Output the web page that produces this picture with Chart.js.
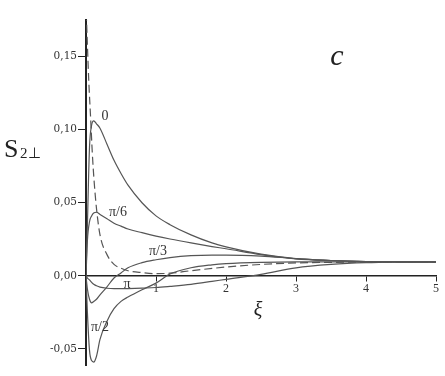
<!DOCTYPE html>
<html>
<head>
<meta charset="utf-8">
<script src="https://cdn.jsdelivr.net/npm/chart.js@4/dist/chart.umd.min.js"></script>
<style>
  html, body { margin: 0; padding: 0; background: #fff; }
  canvas { display: block; }
</style>
</head>
<body>
<canvas id="chart" width="445" height="376"></canvas>
<script>
// valores
const xi = [0, 0.02, 0.05, 0.08, 0.11, 0.15, 0.2, 0.3, 0.4, 0.5, 0.6, 0.8, 1.0, 1.2, 1.5, 1.8, 2.0, 2.5, 3.0, 3.5, 4.0, 4.5, 5.0];

const sAng0   = [0, 0.035, 0.088, 0.103, 0.106, 0.104, 0.101, 0.090, 0.079, 0.070, 0.062, 0.050, 0.041, 0.035, 0.028, 0.0225, 0.0198, 0.0148, 0.0118, 0.0105, 0.0098, 0.0096, 0.0095];
const sAngPi6 = [0, 0.024, 0.037, 0.041, 0.043, 0.0435, 0.042, 0.039, 0.036, 0.034, 0.032, 0.0295, 0.0272, 0.0252, 0.0225, 0.020, 0.0185, 0.0145, 0.0116, 0.0104, 0.0098, 0.0096, 0.0095];
const sAngPi3 = [0, -0.009, -0.016, -0.0185, -0.0175, -0.016, -0.013, -0.0075, -0.0015, 0.002, 0.0055, 0.009, 0.011, 0.0125, 0.0138, 0.0142, 0.0142, 0.0135, 0.0118, 0.0105, 0.0098, 0.0096, 0.0095];
const sAngPi  = [0, -0.0015, -0.0028, -0.0045, -0.0058, -0.0068, -0.0077, -0.0085, -0.0088, -0.0088, -0.0087, -0.0084, -0.008, -0.0072, -0.0058, -0.0038, -0.0024, 0.001, 0.0055, 0.0078, 0.009, 0.0094, 0.0095];
const sAngPi2 = [0, -0.025, -0.051, -0.058, -0.059, -0.055, -0.0435, -0.031, -0.0225, -0.0175, -0.0145, -0.0095, -0.005, 0.0012, 0.0055, 0.0075, 0.0083, 0.0092, 0.0095, 0.0095, 0.0095, 0.0095, 0.0095];

const xiDash = [0.004, 0.02, 0.04, 0.067, 0.09, 0.114, 0.15, 0.2, 0.3, 0.4, 0.5, 0.6, 0.8, 1.0, 1.2, 1.5, 2.0, 2.5, 3.0, 4.0, 5.0];
const sDash  = [0.18, 0.158, 0.133, 0.107, 0.084, 0.066, 0.046, 0.028, 0.0145, 0.0078, 0.0052, 0.0035, 0.0022, 0.0015, 0.0018, 0.0035, 0.006, 0.0078, 0.0088, 0.0094, 0.0095];

const yTicks = [-0.05, 0, 0.05, 0.10, 0.15];
const xTicks = [1, 2, 3, 4, 5];

const curveLabels = [
  { text: '0',   x: 105, y: 116 },
  { text: 'π/6', x: 118, y: 212 },
  { text: 'π/3', x: 158, y: 251 },
  { text: 'π',   x: 127, y: 284 },
  { text: 'π/2', x: 100, y: 327 }
];

function pts(xs, ys) {
  return xs.map((x, i) => ({ x, y: ys[i] }));
}

function curve(xs, ys, dash) {
  return {
    data: pts(xs, ys),
    borderColor: '#555',
    borderWidth: 1.2,
    borderDash: dash || [],
    pointRadius: 0,
    fill: false,
    cubicInterpolationMode: 'monotone'
  };
}

const labelsPlugin = {
  id: 'textos',
  afterDraw(chart) {
    const ctx = chart.ctx;
    ctx.save();
    ctx.fillStyle = '#333';
    ctx.textAlign = 'center';
    ctx.textBaseline = 'middle';
    ctx.font = '14px "Liberation Serif"';
    curveLabels.forEach(l => ctx.fillText(l.text, l.x, l.y));

    // titulo eje y
    ctx.fillStyle = '#222';
    ctx.textAlign = 'left';
    ctx.textBaseline = 'alphabetic';
    ctx.font = '26px "Liberation Serif"';
    ctx.fillText('S', 4, 157);
    ctx.font = '15px "Liberation Serif"';
    ctx.fillText('2⊥', 20, 158);

    // etiqueta eje x y letra del panel
    ctx.textAlign = 'center';
    ctx.textBaseline = 'middle';
    ctx.font = 'italic 20px "Liberation Serif"';
    ctx.fillText('ξ', 258, 311);
    ctx.font = 'italic 30px "Liberation Serif"';
    ctx.fillText('c', 337, 57);
    ctx.restore();
  }
};

new Chart(document.getElementById('chart').getContext('2d'), {
  type: 'line',
  data: {
    datasets: [
      curve(xi, sAng0),
      curve(xi, sAngPi6),
      curve(xi, sAngPi3),
      curve(xi, sAngPi),
      curve(xi, sAngPi2),
      curve(xiDash, sDash, [8, 4])
    ]
  },
  options: {
    responsive: false,
    animation: false,
    layout: { padding: { left: 0, top: 20, right: 9, bottom: 11 } },
    plugins: { legend: { display: false }, tooltip: { enabled: false } },
    scales: {
      x: {
        type: 'linear',
        min: 0,
        max: 5,
        position: { y: 0 },
        afterBuildTicks: s => { s.ticks = xTicks.map(v => ({ value: v })); },
        grid: { drawOnChartArea: false, drawTicks: true, tickLength: 5, color: '#222' },
        border: { display: true, color: '#222', width: 1.5 },
        ticks: {
          color: '#333',
          padding: 1,
          maxRotation: 0,
          font: { family: 'Liberation Serif', size: 12 }
        }
      },
      y: {
        type: 'linear',
        min: -0.061,
        max: 0.175,
        afterBuildTicks: s => { s.ticks = yTicks.map(v => ({ value: v })); },
        afterFit: s => { s.width = 86; },
        grid: { drawOnChartArea: false, drawTicks: true, tickLength: 8, color: '#222' },
        border: { display: true, color: '#222', width: 2 },
        ticks: {
          color: '#333',
          padding: 1,
          font: { family: 'DejaVu Serif', size: 10.5 },
          callback: v => v.toFixed(2).replace('.', ',')
        }
      }
    }
  },
  plugins: [labelsPlugin]
});
</script>
</body>
</html>
